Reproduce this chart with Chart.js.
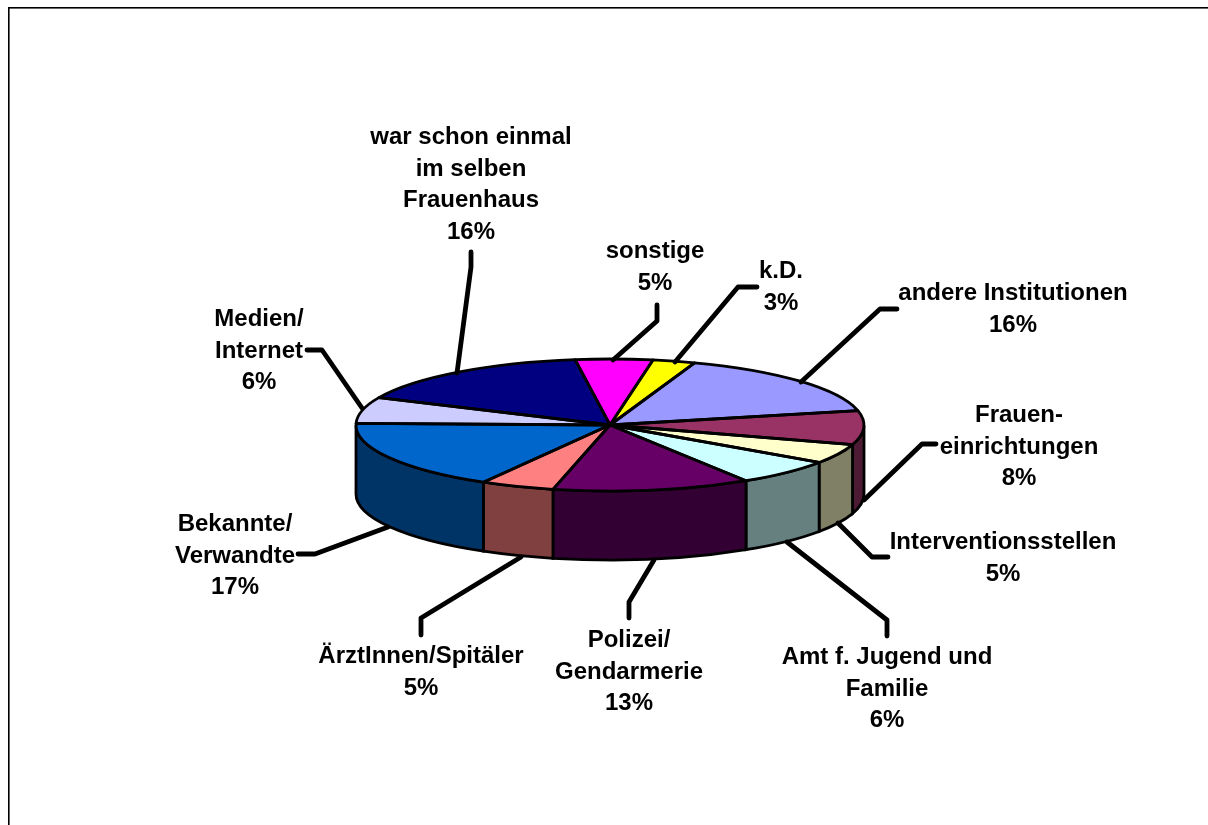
<!DOCTYPE html>
<html lang="de">
<head>
<meta charset="utf-8">
<title>Frauenhaus</title>
<script src="https://cdn.jsdelivr.net/npm/chart.js@4/dist/chart.umd.min.js"></script>
<style>
    html, body { margin: 0; padding: 0; background: #fff; overflow: hidden; }
    canvas { display: block; }
</style>
</head>
<body>
<canvas id="chartPie" width="1208" height="825"></canvas>
<script>
// Daten, im Uhrzeigersinn ab "sonstige"
const categories = [
    ['sonstige'],
    ['k.D.'],
    ['andere Institutionen'],
    ['Frauen-', 'einrichtungen'],
    ['Interventionsstellen'],
    ['Amt f. Jugend und', 'Familie'],
    ['Polizei/', 'Gendarmerie'],
    ['ÄrztInnen/Spitäler'],
    ['Bekannte/', 'Verwandte'],
    ['Medien/', 'Internet'],
    ['war schon einmal', 'im selben', 'Frauenhaus']
];
// aus den Sektorgrenzen geschaetzt, beschriftet wird gerundet
const values = [4.9, 2.7, 16.1, 8.3, 4.8, 6.4, 12.6, 4.7, 17.1, 6.4, 16.0];

const topColors = ['#FF00FF', '#FFFF00', '#9999FF', '#993366', '#FFFFCC', '#CCFFFF', '#660066', '#FF8080', '#0066CC', '#CCCCFF', '#000080'];
const wallColors = ['#800080', '#808000', '#4D4D80', '#4D1A33', '#808066', '#668080', '#330033', '#804040', '#003366', '#666680', '#000040'];

// Position der Beschriftung (Mitte, erste Grundlinie) und Fuehrungslinien
const labelPos = [
    [655, 258], [781, 278], [1013, 300], [1019, 422], [1003, 549],
    [887, 664], [629, 647], [421, 663], [235, 531], [259, 326], [471, 144]
];
const leaders = [
    [[613, 360], [657, 321], [657, 305]],
    [[675, 362], [738, 287], [757, 287]],
    [[801, 382], [880, 309], [897, 309]],
    [[864, 500], [922, 444], [936, 444]],
    [[838, 523], [872, 557], [888, 557]],
    [[787, 542], [887, 620], [887, 636]],
    [[654, 560], [629, 602], [629, 618]],
    [[521, 557], [421, 618], [421, 635]],
    [[388, 527], [315, 554], [298, 554]],
    [[362, 408], [322, 350], [307, 350]],
    [[457, 373], [471, 267], [471, 252]]
];

const RADIUS = 254;
const SQUASH = 66 / 254;
const DEPTH = 69;
const LINE_HEIGHT = 31.5;

const pie3d = {
    id: 'pie3d',
    beforeDraw(chart) {
        const ctx = chart.ctx;
        // Rahmen
        ctx.save();
        ctx.fillStyle = '#fff';
        ctx.fillRect(0, 0, chart.width, chart.height);
        ctx.fillStyle = '#c8c8c8';
        ctx.fillRect(9, 8, chart.width - 9, 1);
        ctx.fillRect(9, 8, 1, chart.height - 8);
        ctx.fillStyle = '#000';
        ctx.fillRect(8, 7, chart.width - 8, 1.5);
        ctx.fillRect(8, 7, 1.5, chart.height - 7);
        ctx.restore();
    },
    beforeDatasetsDraw(chart) {
        const ctx = chart.ctx;
        const arcs = chart.getDatasetMeta(0).data;
        const cx = arcs[0].x;
        const cy = arcs[0].y;
        const ry = RADIUS * SQUASH;

        // Seitenwaende, nur die vordere Haelfte ist sichtbar
        ctx.save();
        ctx.strokeStyle = '#000';
        ctx.lineWidth = 2.8;
        arcs.forEach((arc, i) => {
            const a = Math.max(arc.startAngle, 0);
            const b = Math.min(arc.endAngle, Math.PI);
            if (b <= a) return;
            ctx.beginPath();
            ctx.ellipse(cx, cy, RADIUS, ry, 0, a, b);
            ctx.ellipse(cx, cy + DEPTH, RADIUS, ry, 0, b, a, true);
            ctx.closePath();
            ctx.fillStyle = wallColors[i];
            ctx.fill();
            ctx.stroke();
        });
        ctx.restore();

        // Kreis flachdruecken
        ctx.save();
        ctx.translate(cx, cy);
        ctx.scale(1, SQUASH);
        ctx.translate(-cx, -cy);
    },
    afterDatasetsDraw(chart) {
        const ctx = chart.ctx;
        ctx.restore();

        const arcs = chart.getDatasetMeta(0).data;
        const ry = RADIUS * SQUASH;

        // Umrisse erst hier, damit die Strichstaerke nicht mitgestaucht wird
        ctx.save();
        ctx.strokeStyle = '#000';
        ctx.lineWidth = 2.8;
        ctx.lineJoin = 'round';
        arcs.forEach(arc => {
            ctx.beginPath();
            ctx.moveTo(arc.x, arc.y);
            ctx.ellipse(arc.x, arc.y, RADIUS, ry, 0, arc.startAngle, arc.endAngle);
            ctx.closePath();
            ctx.stroke();
        });

        // Fuehrungslinien
        ctx.lineWidth = 4.8;
        ctx.lineCap = 'round';
        leaders.forEach(points => {
            ctx.beginPath();
            points.forEach((p, i) => i ? ctx.lineTo(p[0], p[1]) : ctx.moveTo(p[0], p[1]));
            ctx.stroke();
        });

        // Beschriftung
        ctx.fillStyle = '#000';
        ctx.font = 'bold 24px "Liberation Sans"';
        ctx.textAlign = 'center';
        ctx.textBaseline = 'alphabetic';
        categories.forEach((lines, i) => {
            const [x, y] = labelPos[i];
            [...lines, Math.round(values[i]) + '%'].forEach((text, n) => {
                ctx.fillText(text, x, Math.round(y + n * LINE_HEIGHT));
            });
        });
        ctx.restore();
    }
};

new Chart(document.getElementById('chartPie').getContext('2d'), {
    type: 'pie',
    data: {
        labels: categories.map(lines => lines.join(' ')),
        datasets: [{
            data: values,
            backgroundColor: topColors,
            borderWidth: 0,
            clip: false
        }]
    },
    options: {
        responsive: false,
        animation: false,
        rotation: -7.9,
        radius: RADIUS,
        layout: { padding: { left: 12, top: 25 } },
        plugins: {
            legend: { display: false },
            tooltip: { enabled: false }
        }
    },
    plugins: [pie3d]
});
</script>
</body>
</html>
